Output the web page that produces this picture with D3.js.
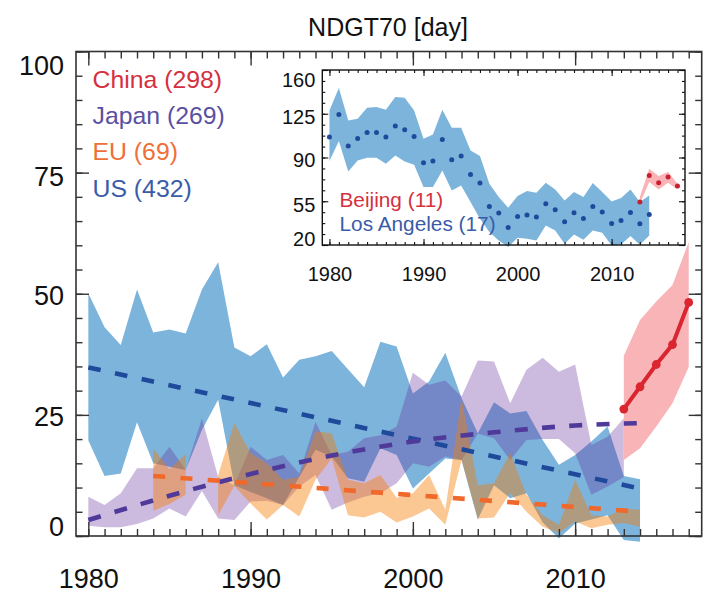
<!DOCTYPE html>
<html>
<head>
<meta charset="utf-8">
<script src="https://cdn.jsdelivr.net/npm/d3@7"></script>
<style>
  body { margin: 0; background: #fff; }
  svg { display: block; font-family: "Liberation Sans", Arial, sans-serif; }
  .domain { display: none; }
</style>
</head>
<body>
<svg id="chart" width="720" height="608"></svg>
<script>
// main panel, one value per year
const usYears = d3.range(1980, 2015);
const usUpper = [50.1, 43.1, 39.4, 50.9, 42.0, 42.6, 41.8, 50.9, 56.5, 38.9, 37.1, 39.6, 32.7, 36.4, 37.1, 38.2, 34.4, 30.7, 40.1, 39.1,
  29.4, 31.9, 37.8, 28.5, 21.2, 27.6, 25.3, 25.8, 19.8, 14.7, 16.7, 19.5, 22.6, 12.4, 11.7];
const usLower = [19.7, 12.4, 12.9, 23.5, 15.0, 14.3, 13.6, 21.9, 28.1, 10.5, 9.1, 7.8, 6.4, 12.2, 17.8, 16.4, 11.9, 11.2, 18.1, 16.7,
  9.8, 12.9, 16.0, 15.7, 3.4, 10.5, 7.8, 8.8, 2.8, -0.5, 2.6, 3.4, 4.3, -0.8, -1.2];

const japanYears = d3.range(1980, 2014);
const japanUpper = [8.1, 6.4, 8.8, 14.0, 14.0, 18.4, 13.6, 24.3, 12.2, 10.5, 18.4, 15.7, 16.7, 12.9, 23.6, 16.7, 17.4, 20.2, 20.8, 22.6,
  33.7, 31.2, 32.1, 28.8, 36.2, 36.0, 27.4, 34.3, 36.8, 33.9, 35.4, 18.8, 20.5, 24.3];
const japanLower = [2.1, 1.8, 1.8, 2.5, 3.6, 5.7, 4.0, 9.3, 3.6, 3.3, 7.1, 7.3, 6.4, 10.2, 12.6, 5.4, 6.9, 8.1, 8.8, 10.9,
  15.0, 14.3, 16.4, 15.7, 21.1, 20.2, 15.7, 19.8, 20.0, 20.0, 17.1, 8.5, 10.2, 12.2];

// EU has no value for 1987
const euYears = d3.range(1984, 2015);
const euUpper = [18.1, 13.8, 16.9, null, 12.6, 23.3, 17.1, 15.0, 11.6, 12.2, 21.6, 21.2, 11.6, 10.9, 12.6, 7.9, 8.8, 12.6, 5.4, 28.5,
  10.5, 10.9, 17.1, 8.5, 4.3, 2.3, 11.6, 4.3, 4.0, 5.7, 5.4];
const euLower = [5.2, 6.6, 8.5, null, 4.3, 10.3, 6.7, 3.4, 6.4, 4.0, 11.6, 16.0, 4.3, 3.8, 5.0, 2.8, 4.0, 5.7, 2.3, 15.7,
  3.6, 3.8, 8.9, 5.0, 1.9, 0.6, 3.0, 1.6, 2.3, 2.7, 1.9];

const chinaYears = d3.range(2013, 2018);
const chinaUpper = [37.2, 44.6, 48.4, 51.8, 60.7];
const chinaLower = [15.7, 18.1, 22.6, 27.4, 34.9];
const chinaMean = [26.2, 30.8, 35.4, 39.5, 48.2];

// dashed trends
const usTrendYears = [1980, 2014];
const usTrend = [34.8, 9.8];
const euTrendYears = [1984, 2014];
const euTrend = [12.4, 5.0];
const japanTrendYears = [1980, 1985, 1990, 1995, 2000, 2005, 2010, 2014];
const japanTrend = [3.3, 8.3, 12.8, 16.6, 19.5, 21.4, 22.8, 23.3];

// inset
const laUpper = [127.7, 145.6, 119.7, 121, 129.9, 130.4, 128.3, 138.4, 137.9, 127.7, 105, 108.5, 128.3, 113.9, 113.9, 95.7, 91.2, 69, 58.4, 49.9,
  59.2, 63.2, 61.9, 69.9, 64.5, 55.7, 62.4, 58.4, 69.6, 62.4, 54.9, 57.6, 64.5, 54.4, 59.7];
const laLower = [87.2, 103.2, 78.9, 87.7, 89.9, 89.9, 85.1, 91.7, 86.9, 84.3, 66.4, 66.4, 79.7, 63.7, 67.7, 54.4, 41, 30.4, 23.7, 18.4,
  25.9, 25, 23.7, 35.7, 31.7, 21, 28.5, 24.3, 31.7, 29.9, 19.7, 20.5, 27.2, 20.3, 27.7];
const laMean = [106.4, 124.5, 99.2, 105.3, 110.1, 110.1, 106.4, 115.2, 112.3, 106.9, 85.9, 87.2, 104.5, 88.3, 91.2, 76.5, 69.6, 50.9, 45.6, 34.1,
  42.9, 44, 42.4, 53, 48.3, 38.7, 45.9, 41.3, 50.9, 46.4, 37.3, 39.7, 46.1, 37, 44.5];
const beijingUpper = [58.4, 81.1, 75.2, 78.4, 69.1];
const beijingLower = [53, 70.4, 64.5, 69.9, 64.5];
const beijingMean = [54.4, 75.7, 69.9, 74.4, 67.2];

// tick labels
const mainYTicks = [0, 25, 50, 75, 100];
const insetYTicks = [20, 55, 90, 125, 160];
const xTicks = [1980, 1990, 2000, 2010];

const legendLabels = ["China (298)", "Japan (269)", "EU (69)", "US (432)"];
const insetLabels = ["Beijing (11)", "Los Angeles (17)"];

const red = "#d5303f", purple = "#5a50a2", orange = "#ee7036", blue = "#3a5ca8";

const svg = d3.select("#chart");

const xDomain = [1979.24, 2017.8];
const x = d3.scaleLinear().domain(xDomain).range([76, 701.7]);
const y = d3.scaleLinear().domain([0, 100]).range([536, 51.5]);
const xIn = d3.scaleLinear().domain(xDomain).range([322.3, 685]);
const yIn = d3.scaleLinear().domain([20, 160]).range([245, 70]);

function drawBand(g, sx, sy, years, upper, lower, fill, opacity) {
  const area = d3.area()
    .defined((_d, i) => upper[i] !== null)
    .x((d) => sx(d))
    .y0((_d, i) => sy(lower[i]))
    .y1((_d, i) => sy(upper[i]));
  g.append("path")
    .attr("d", area(years))
    .attr("fill", fill)
    .attr("fill-opacity", opacity);
}

function drawTrend(years, values, color, curve, dash) {
  const line = d3.line()
    .curve(curve)
    .x((d) => x(d))
    .y((_d, i) => y(values[i]));
  svg.append("path")
    .attr("d", line(years))
    .attr("fill", "none")
    .attr("stroke", color)
    .attr("stroke-width", 4.6)
    .attr("stroke-dasharray", dash);
}

// draws a full box of inward ticks, major and minor, on all four sides
function drawFrame(sx, sy, opts) {
  const g = svg.append("g").attr("color", opts.color);
  const [x0, x1] = sx.range();
  const [y0, y1] = sy.range();
  const years = d3.range(1980, 2018);
  const sides = [
    [d3.axisBottom, sx, `translate(0,${y0})`],
    [d3.axisTop, sx, `translate(0,${y1})`],
    [d3.axisLeft, sy, `translate(${x0},0)`],
    [d3.axisRight, sy, `translate(${x1},0)`],
  ];
  sides.forEach(([axis, scale, transform]) => {
    const isX = scale === sx;
    const minor = isX ? years : opts.yMinor;
    const major = isX ? xTicks : opts.yTicks;
    g.append("g").attr("transform", transform)
      .call(axis(scale).tickValues(minor).tickSize(-(isX ? opts.xMinor : opts.yMinorLen)).tickFormat(""))
      .selectAll("line").attr("stroke-width", opts.tickWidth);
    g.append("g").attr("transform", transform)
      .call(axis(scale).tickValues(major).tickSize(-(isX ? opts.xMajor : opts.yMajorLen)).tickFormat(""))
      .selectAll("line").attr("stroke-width", opts.tickWidth);
  });
  g.append("rect")
    .attr("x", x0).attr("y", y1)
    .attr("width", x1 - x0).attr("height", y0 - y1)
    .attr("fill", "none")
    .attr("stroke", opts.color)
    .attr("stroke-width", opts.frameWidth);
}

function drawLabels(sx, sy, yTicks, yOffset, opts) {
  const bottom = svg.append("g")
    .attr("transform", `translate(0,${sy.range()[0]})`)
    .call(d3.axisBottom(sx).tickValues(xTicks).tickSize(0).tickPadding(opts.xPad).tickFormat(d3.format("d")));
  bottom.selectAll("text").attr("font-size", opts.size).attr("fill", "#111");
  bottom.selectAll("line").remove();
  const left = svg.append("g")
    .attr("transform", `translate(${sx.range()[0]},0)`)
    .call(d3.axisLeft(sy).tickValues(yTicks).tickSize(0).tickPadding(opts.yPad).tickFormat(d3.format("d")));
  left.selectAll("text")
    .attr("font-size", opts.size)
    .attr("fill", "#111")
    .attr("transform", (d, i) => `translate(0,${yOffset[i]})`);
  left.selectAll("line").remove();
  [bottom, left].forEach((a) => a.attr("font-family", null));
}

// main bands, blue at the bottom so the others tint it
const bands = svg.append("g");
drawBand(bands, x, y, usYears, usUpper, usLower, "#7db4dc", 1);
drawBand(bands, x, y, japanYears, japanUpper, japanLower, "#632b9c", 0.32);
drawBand(bands, x, y, chinaYears, chinaUpper, chinaLower, "#f9b4b8", 1);
drawBand(bands, x, y, euYears, euUpper, euLower, "#f57d00", 0.42);

drawTrend(usTrendYears, usTrend, "#1f4a9c", d3.curveLinear, "12.6 14.7");
drawTrend(japanTrendYears, japanTrend, "#4f3a9a", d3.curveMonotoneX, "13 14.3");
drawTrend(euTrendYears, euTrend, "#f0682a", d3.curveLinear, "12 15.3");

svg.append("path")
  .attr("d", d3.line().x((d) => x(d)).y((_d, i) => y(chinaMean[i]))(chinaYears))
  .attr("fill", "none")
  .attr("stroke", "#d9262f")
  .attr("stroke-width", 4);
svg.selectAll(".china-dot")
  .data(chinaYears)
  .enter()
  .append("circle")
  .attr("class", "china-dot")
  .attr("cx", (d) => x(d))
  .attr("cy", (_d, i) => y(chinaMean[i]))
  .attr("r", 4.4)
  .attr("fill", "#d9262f");

drawFrame(x, y, {
  color: "#333",
  yTicks: mainYTicks,
  yMinor: d3.range(0, 101, 5),
  xMinor: 7, xMajor: 14, yMinorLen: 6.5, yMajorLen: 13,
  tickWidth: 1.4, frameWidth: 1.6,
});
drawLabels(x, y, mainYTicks, [-9, 2, 2, 4, 14], { size: 27, xPad: 33, yPad: 12 });

// inset
const insetBands = svg.append("g");
drawBand(insetBands, xIn, yIn, usYears, laUpper, laLower, "#7db4dc", 1);
drawBand(insetBands, xIn, yIn, chinaYears, beijingUpper, beijingLower, "#f9b4b8", 1);

svg.selectAll(".la-dot")
  .data(usYears)
  .enter()
  .append("circle")
  .attr("class", "la-dot")
  .attr("cx", (d) => xIn(d))
  .attr("cy", (_d, i) => yIn(laMean[i]))
  .attr("r", 2.5)
  .attr("fill", "#1f4a9c");
svg.selectAll(".bj-dot")
  .data(chinaYears)
  .enter()
  .append("circle")
  .attr("class", "bj-dot")
  .attr("cx", (d) => xIn(d))
  .attr("cy", (_d, i) => yIn(beijingMean[i]))
  .attr("r", 2.5)
  .attr("fill", "#c9202f");

drawFrame(xIn, yIn, {
  color: "#111",
  yTicks: insetYTicks,
  yMinor: d3.range(20, 161, 8.75),
  xMinor: 3, xMajor: 6, yMinorLen: 3, yMajorLen: 6,
  tickWidth: 1.1, frameWidth: 1.4,
});
drawLabels(xIn, yIn, insetYTicks, [-6, 3.7, 2.5, 3.5, 10], { size: 20, xPad: 22, yPad: 7 });

// text
svg.append("text")
  .attr("x", 388).attr("y", 36)
  .attr("text-anchor", "middle")
  .attr("font-size", 25)
  .attr("fill", "#111")
  .text("NDGT70 [day]");

const legendColors = [red, purple, orange, blue];
svg.selectAll(".legend")
  .data(legendLabels)
  .enter()
  .append("text")
  .attr("class", "legend")
  .attr("x", 92.5)
  .attr("y", (_d, i) => 87.5 + i * 36.4)
  .attr("font-size", 24.8)
  .attr("fill", (_d, i) => legendColors[i])
  .text((d) => d);

const insetColors = [red, blue];
svg.selectAll(".inset-legend")
  .data(insetLabels)
  .enter()
  .append("text")
  .attr("class", "inset-legend")
  .attr("x", 339.5)
  .attr("y", (_d, i) => 206.7 + i * 24)
  .attr("font-size", 20.8)
  .attr("fill", (_d, i) => insetColors[i])
  .text((d) => d);
</script>
</body>
</html>
